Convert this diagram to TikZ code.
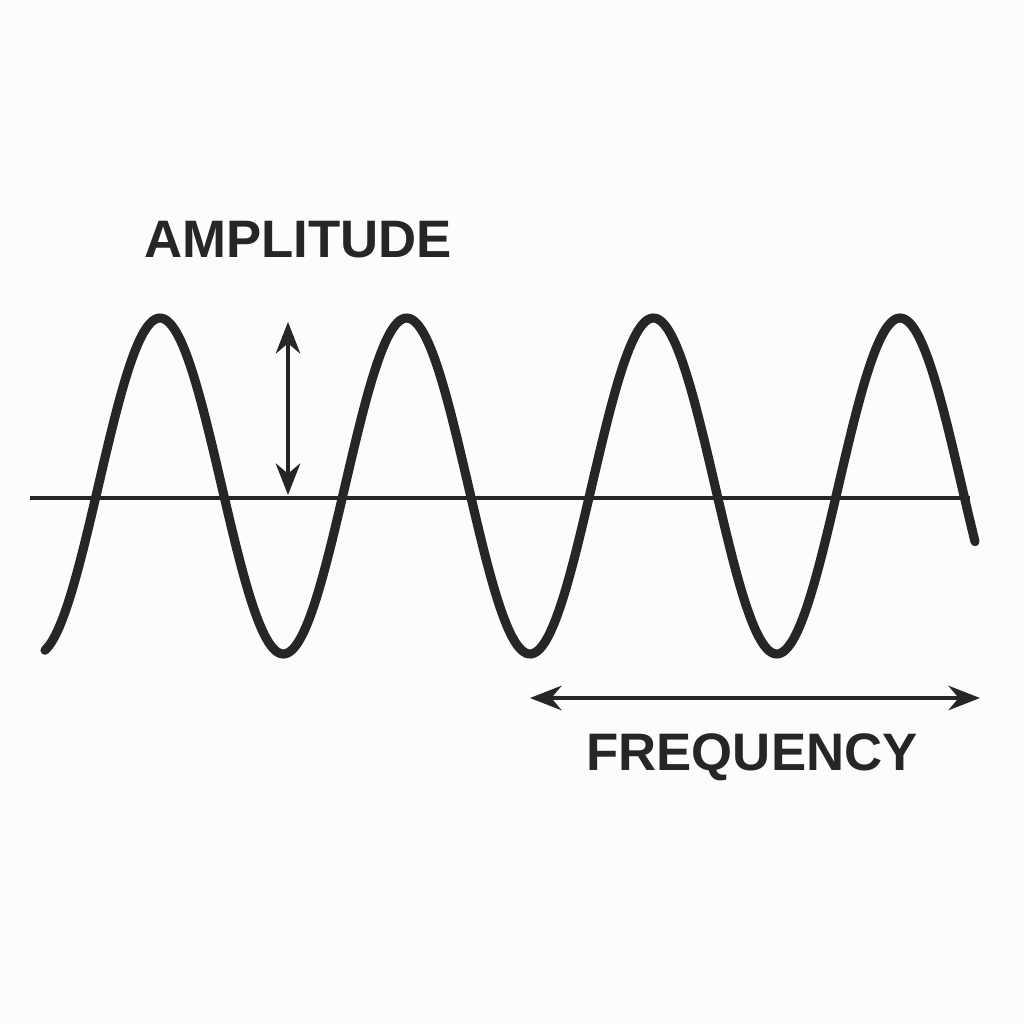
\documentclass[tikz,border=0pt]{standalone}
\usepackage{fontspec}
\setmainfont{Liberation Sans}
\usetikzlibrary{arrows.meta}
\begin{document}
\begin{tikzpicture}[x=0.01cm,y=-0.01cm,>={Stealth[length=9pt,width=7pt]},
  label/.style={font=\fontsize{15}{17}\selectfont\bfseries,text=black!85}]

\useasboundingbox [fill=black!1] (0,0) rectangle (1024,1024);

% wave and axis
\draw [line width=2.6pt,line cap=round,black!85]
  plot [domain=45:975,samples=200,smooth] ({\x},{486-168*cos(1.4593*(\x-160))});
\coordinate (axisl) at (30,498);
\coordinate (axisr) at (970,498);
\draw [line width=1pt,black!85] (axisl) -- (axisr);

% amplitude
\node [label] (amp) at (298,240) {AMPLITUDE};
\coordinate (amptop) at (288,322);
\coordinate (ampbot) at (288,495);
\draw [<->,line width=0.9pt,black!85] (amptop) -- (ampbot);

% frequency
\node [label] (freq) at (752,757) {FREQUENCY};
\coordinate (freql) at (530,698);
\coordinate (freqr) at (980,698);
\draw [<->,line width=0.9pt,black!85] (freql) -- (freqr);

\end{tikzpicture}
\end{document}
